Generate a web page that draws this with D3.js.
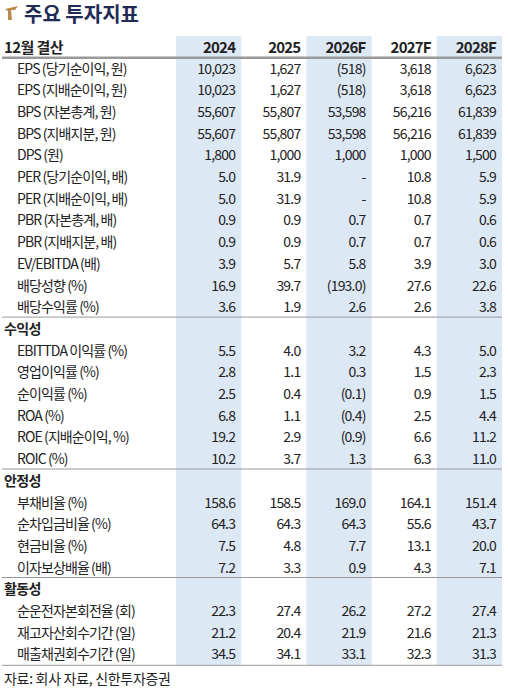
<!DOCTYPE html>
<html><head><meta charset="utf-8">
<script src="https://cdn.jsdelivr.net/npm/d3@7"></script>
<style>
body{margin:0;background:#fff}
text{font-family:"Noto Sans CJK KR","Noto Sans",sans-serif;fill:#222}
</style></head>
<body><svg width="508" height="694"></svg>
<script>
const years = ["2024", "2025", "2026F", "2027F", "2028F"];
const shaded = ["2024", "2026F", "2028F"];
const labels = ["EPS (당기순이익, 원)", "EPS (지배순이익, 원)", "BPS (자본총계, 원)", "BPS (지배지분, 원)", "DPS (원)",
  "PER (당기순이익, 배)", "PER (지배순이익, 배)", "PBR (자본총계, 배)", "PBR (지배지분, 배)", "EV/EBITDA (배)",
  "배당성향 (%)", "배당수익률 (%)",
  "수익성", "EBITTDA 이익률 (%)", "영업이익률 (%)", "순이익률 (%)", "ROA (%)", "ROE (지배순이익, %)", "ROIC (%)",
  "안정성", "부채비율 (%)", "순차입금비율 (%)", "현금비율 (%)", "이자보상배율 (배)",
  "활동성", "순운전자본회전율 (회)", "재고자산회수기간 (일)", "매출채권회수기간 (일)"];
// null = section header row
const values = [
  ["10,023", "1,627", "(518)", "3,618", "6,623"],
  ["10,023", "1,627", "(518)", "3,618", "6,623"],
  ["55,607", "55,807", "53,598", "56,216", "61,839"],
  ["55,607", "55,807", "53,598", "56,216", "61,839"],
  ["1,800", "1,000", "1,000", "1,000", "1,500"],
  ["5.0", "31.9", "-", "10.8", "5.9"],
  ["5.0", "31.9", "-", "10.8", "5.9"],
  ["0.9", "0.9", "0.7", "0.7", "0.6"],
  ["0.9", "0.9", "0.7", "0.7", "0.6"],
  ["3.9", "5.7", "5.8", "3.9", "3.0"],
  ["16.9", "39.7", "(193.0)", "27.6", "22.6"],
  ["3.6", "1.9", "2.6", "2.6", "3.8"],
  null,
  ["5.5", "4.0", "3.2", "4.3", "5.0"],
  ["2.8", "1.1", "0.3", "1.5", "2.3"],
  ["2.5", "0.4", "(0.1)", "0.9", "1.5"],
  ["6.8", "1.1", "(0.4)", "2.5", "4.4"],
  ["19.2", "2.9", "(0.9)", "6.6", "11.2"],
  ["10.2", "3.7", "1.3", "6.3", "11.0"],
  null,
  ["158.6", "158.5", "169.0", "164.1", "151.4"],
  ["64.3", "64.3", "64.3", "55.6", "43.7"],
  ["7.5", "4.8", "7.7", "13.1", "20.0"],
  ["7.2", "3.3", "0.9", "4.3", "7.1"],
  null,
  ["22.3", "27.4", "26.2", "27.2", "27.4"],
  ["21.2", "20.4", "21.9", "21.6", "21.3"],
  ["34.5", "34.1", "33.1", "32.3", "31.3"]
];

const svg = d3.select("svg");
const tableTop = 36, pitch = 21.7;
const rowKeys = ["header"].concat(labels.map((l, i) => i));
const y = d3.scaleBand().domain(rowKeys).range([tableTop, tableTop + pitch * rowKeys.length]);
const x = d3.scaleBand().domain(years).range([176, 502]);

// shaded columns
svg.selectAll("rect.col").data(shaded).enter().append("rect")
  .attr("x", d => x(d)).attr("width", x.bandwidth())
  .attr("y", tableTop).attr("height", y(labels.length - 1) + y.bandwidth() - tableTop)
  .attr("fill", "#dde8f5");

// title
svg.append("path").attr("d", "M5,9 L18,6 L15,10 L11,10 L12,20 L8,20 L8,11 Z").attr("fill", "#b8894a");
svg.append("text").attr("x", 24).attr("y", 22).attr("font-size", 20).attr("font-weight", 700)
  .style("fill", "#1f2a55").text("주요 투자지표");

// header
const hy = y("header") + pitch / 2 + 6;
svg.append("text").attr("x", 4).attr("y", hy).attr("font-size", 15).attr("font-weight", 700)
  .attr("letter-spacing", -0.6).text("12월 결산");
svg.selectAll("text.yr").data(years).enter().append("text")
  .attr("x", d => x(d) + x.bandwidth() - 6).attr("y", hy).attr("text-anchor", "end")
  .attr("font-size", 15).attr("font-weight", 700).attr("letter-spacing", -0.8).text(d => d);

const lineW = (yy, w, c) => svg.append("line").attr("x1", 2).attr("x2", 502)
  .attr("y1", yy).attr("y2", yy).attr("stroke", c).attr("stroke-width", w);
lineW(y(0), 2.5, "#999");

labels.forEach((l, i) => {
  const ry = y(i) + pitch / 2 + 5;
  if (values[i] === null) {
    lineW(y(i) - 1, 1, "#999");
    svg.append("text").attr("x", 4).attr("y", ry).attr("font-size", 14).attr("font-weight", 700)
      .attr("letter-spacing", -0.6).text(l);
    return;
  }
  svg.append("text").attr("x", 17).attr("y", ry).attr("font-size", 14)
    .attr("letter-spacing", -0.9).text(l);
  svg.selectAll(null).data(values[i]).enter().append("text")
    .attr("x", (d, j) => x(years[j]) + x.bandwidth() - 6).attr("y", ry).attr("text-anchor", "end")
    .attr("font-size", 14).attr("letter-spacing", -0.8).text(d => d);
});
const endY = y(labels.length - 1) + y.bandwidth();
lineW(endY, 1, "#999");
svg.append("text").attr("x", 4).attr("y", endY + 19).attr("font-size", 14).attr("letter-spacing", -0.3)
  .text("자료: 회사 자료, 신한투자증권");
</script></body></html>
